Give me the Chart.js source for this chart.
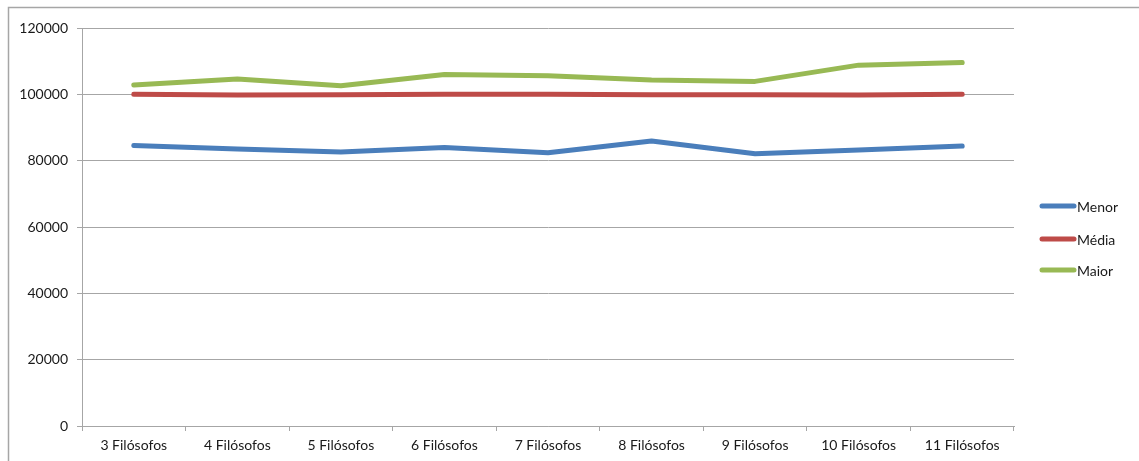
<!DOCTYPE html>
<html>
<head>
<meta charset="utf-8">
<script src="https://cdn.jsdelivr.net/npm/chart.js@4.4.1/dist/chart.umd.min.js"></script>
<style>
  html, body { margin: 0; padding: 0; background: #fff; }
  #wrap { width: 1139px; height: 461px; position: relative; }
</style>
</head>
<body>
<div id="wrap"><canvas id="chart" width="1139" height="461"></canvas></div>
<script>
// data
const categories = ['3 Filósofos', '4 Filósofos', '5 Filósofos', '6 Filósofos', '7 Filósofos',
                    '8 Filósofos', '9 Filósofos', '10 Filósofos', '11 Filósofos'];
const menor = [84600, 83500, 82600, 84000, 82400, 85900, 82100, 83200, 84400];
const media = [100000, 99800, 99900, 100000, 100000, 99900, 99900, 99800, 100000];
const maior = [102800, 104600, 102600, 106000, 105600, 104300, 103900, 108800, 109600];
const yTicks = [0, 20000, 40000, 60000, 80000, 100000, 120000];

const FONT = 'Lato, "Open Sans", sans-serif';
const GRID = '#a6a6a6';

// frame (top + left edge) and right-hand legend
const decor = {
  id: 'decor',
  beforeDraw(chart) {
    const c = chart.ctx;
    c.save();
    c.strokeStyle = GRID;
    c.lineWidth = 1.5;
    c.beginPath();
    c.moveTo(8.5, 461);
    c.lineTo(8.5, 7.5);
    c.lineTo(1139, 7.5);
    c.stroke();
    c.restore();
  },
  afterDraw(chart) {
    const c = chart.ctx;
    const ys = [206, 239, 270];
    c.save();
    c.font = '14px ' + FONT;
    c.textBaseline = 'middle';
    c.lineCap = 'round';
    chart.data.datasets.forEach((ds, i) => {
      c.strokeStyle = ds.borderColor;
      c.lineWidth = 5;
      c.beginPath();
      c.moveTo(1042, ys[i]);
      c.lineTo(1074, ys[i]);
      c.stroke();
      c.fillStyle = '#1a1a1a';
      c.fillText(ds.label, 1077, ys[i] + 1);
    });
    c.restore();
  }
};

const lineStyle = { borderWidth: 5, pointRadius: 0, tension: 0, borderCapStyle: 'round', borderJoinStyle: 'round' };

new Chart(document.getElementById('chart'), {
  type: 'line',
  data: {
    labels: categories,
    datasets: [
      { label: 'Menor', data: menor, borderColor: '#4a7ebb', ...lineStyle },
      { label: 'Média', data: media, borderColor: '#be4b48', ...lineStyle },
      { label: 'Maior', data: maior, borderColor: '#98b954', ...lineStyle }
    ]
  },
  options: {
    responsive: false,
    animation: false,
    layout: { padding: { top: 28, right: 125, bottom: 0, left: 0 } },
    plugins: { legend: { display: false }, tooltip: { enabled: false } },
    scales: {
      x: {
        offset: true,
        grid: { offset: true, drawOnChartArea: false, drawTicks: true, tickLength: 5, color: GRID },
        border: { color: GRID, width: 1 },
        ticks: { color: '#1a1a1a', font: { family: FONT, size: 14 }, padding: 6, maxRotation: 0 },
        afterFit(scale) { scale.height = 35; }
      },
      y: {
        min: 0,
        max: 120000,
        afterBuildTicks(scale) { scale.ticks = yTicks.map(v => ({ value: v })); },
        grid: { color: GRID, tickLength: 5 },
        border: { color: GRID, width: 1 },
        ticks: { color: '#1a1a1a', font: { family: FONT, size: 14 }, padding: 9, callback: v => String(v) },
        afterFit(scale) { scale.width = 82; }
      }
    }
  },
  plugins: [decor]
});
</script>
</body>
</html>
